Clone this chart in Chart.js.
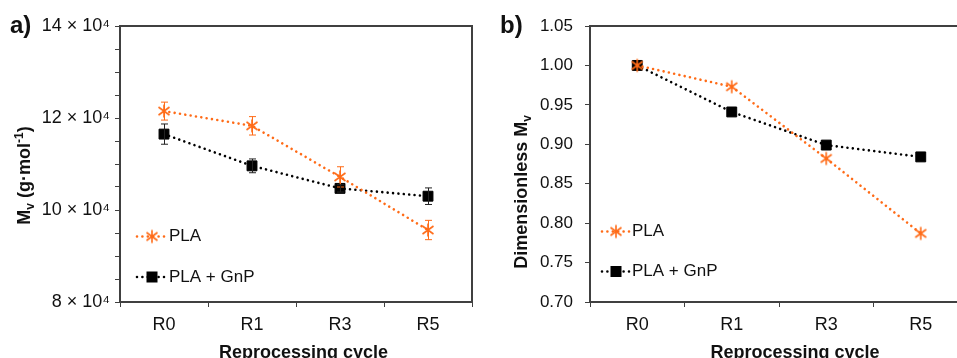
<!DOCTYPE html>
<html>
<head>
<meta charset="utf-8">
<script src="https://cdn.jsdelivr.net/npm/chart.js@4.4.1/dist/chart.umd.min.js"></script>
<style>
  html, body { margin: 0; padding: 0; background: #fff; overflow: hidden; width: 957px; height: 358px; }
  canvas { position: absolute; top: 0; }
  #chartA { left: 0; }
  #chartB { left: 480px; }
</style>
</head>
<body>
<canvas id="chartA" width="480" height="358"></canvas>
<canvas id="chartB" width="500" height="358"></canvas>
<script>
// Reprocessing cycles
const categories = ['R0', 'R1', 'R3', 'R5'];

// Viscosity-average molecular weight, g/mol
const plaMv = [121500, 118300, 107200, 95650];
const plaMvErr = [1950, 2000, 2200, 2100];
const gnpMv = [116500, 109600, 104700, 103000];
const gnpMvErr = [2200, 1500, 800, 1800];

// Molecular weight relative to the unprocessed material
const plaDimless = [1.000, 0.973, 0.882, 0.787];
const gnpDimless = [1.000, 0.941, 0.899, 0.884];

// Axis tick values
const mvTicksMajor = [80000, 100000, 120000, 140000];
const dimTickStep = 0.05;

const FONT = "'Liberation Sans', Arial, Helvetica, sans-serif";
const ORANGE = '#FF6B17';
const BLACK = '#000000';
const AXIS = '#404040';
const TEXT = '#111111';

// Six-spoke asterisk marker
function makeAsterisk(color) {
  const c = document.createElement('canvas');
  c.width = 16; c.height = 16;
  const g = c.getContext('2d');
  g.strokeStyle = color;
  g.lineWidth = 1.6;
  g.beginPath();
  g.moveTo(8, 1.5); g.lineTo(8, 14.5);
  g.moveTo(2.5, 4); g.lineTo(13.5, 12);
  g.moveTo(2.5, 12); g.lineTo(13.5, 4);
  g.stroke();
  return c;
}
const asterisk = makeAsterisk(ORANGE);

// Vertical error bars with caps, drawn through the y scale
const errorBars = {
  id: 'errorBars',
  afterDatasetsDraw(chart) {
    const ctx = chart.ctx;
    const yScale = chart.scales.y;
    chart.data.datasets.forEach((ds, i) => {
      if (!ds.errors) return;
      const meta = chart.getDatasetMeta(i);
      ctx.save();
      ctx.strokeStyle = ds.errorColor;
      ctx.lineWidth = 1;
      meta.data.forEach((pt, j) => {
        const v = ds.data[j], e = ds.errors[j];
        const yt = yScale.getPixelForValue(v + e);
        const yb = yScale.getPixelForValue(v - e);
        const x = Math.round(pt.x) + 0.5;
        ctx.beginPath();
        ctx.moveTo(x, yt); ctx.lineTo(x, yb);
        ctx.moveTo(x - 3.5, yt); ctx.lineTo(x + 3.5, yt);
        ctx.moveTo(x - 3.5, yb); ctx.lineTo(x + 3.5, yb);
        ctx.stroke();
      });
      ctx.restore();
    });
  }
};

// Top and right edges of the plot frame
const frame = {
  id: 'frame',
  afterDraw(chart) {
    const { ctx, chartArea: a } = chart;
    ctx.save();
    ctx.strokeStyle = AXIS;
    ctx.lineWidth = 2;
    ctx.beginPath();
    ctx.moveTo(a.left - 1, a.top);
    ctx.lineTo(a.right, a.top);
    ctx.lineTo(a.right, a.bottom);
    ctx.stroke();
    ctx.restore();
  }
};

// Text with sub/superscript runs
function drawRich(ctx, segs, cx, cy, rot, size, weight) {
  const small = Math.round(size * 0.68);
  ctx.save();
  ctx.translate(cx, cy);
  ctx.rotate(rot);
  let w = 0;
  segs.forEach(s => {
    ctx.font = weight + ' ' + (s.sub || s.sup ? small : size) + 'px ' + FONT;
    s.w = ctx.measureText(s.t).width;
    w += s.w;
  });
  let x = -w / 2;
  const base = size * 0.36;
  ctx.fillStyle = TEXT;
  ctx.textBaseline = 'alphabetic';
  ctx.textAlign = 'left';
  segs.forEach(s => {
    ctx.font = weight + ' ' + (s.sub || s.sup ? small : size) + 'px ' + FONT;
    let dy = 0;
    if (s.sub) dy = size * 0.22;
    if (s.sup) dy = -size * 0.4;
    ctx.fillText(s.t, x, base + dy);
    x += s.w;
  });
  ctx.restore();
}

// Panel letter, axis titles and the series key
const annotations = {
  id: 'annotations',
  afterDraw(chart, args, opts) {
    const ctx = chart.ctx;
    ctx.save();
    ctx.fillStyle = TEXT;
    ctx.font = 'bold 24px ' + FONT;
    ctx.textBaseline = 'alphabetic';
    ctx.textAlign = 'left';
    ctx.fillText(opts.letter.text, opts.letter.x, opts.letter.y);
    ctx.font = 'bold 18px ' + FONT;
    ctx.textAlign = 'center';
    ctx.fillText(opts.xTitle.text, opts.xTitle.x, opts.xTitle.y);
    ctx.restore();
    drawRich(ctx, opts.yTitle.segs, opts.yTitle.x, opts.yTitle.y, -Math.PI / 2, 18, 'bold');

    // key entries: dotted sample, marker, label
    const k = opts.key;
    chart.data.datasets.forEach((ds, i) => {
      const y = k.rows[i];
      ctx.save();
      ctx.strokeStyle = ds.borderColor;
      ctx.lineWidth = ds.borderWidth;
      ctx.lineCap = 'round';
      ctx.setLineDash(ds.borderDash);
      ctx.beginPath();
      ctx.moveTo(k.x0, y); ctx.lineTo(k.x1, y);
      ctx.stroke();
      ctx.setLineDash([]);
      const mx = (k.x0 + k.x1) / 2;
      if (ds.pointStyle === 'rect') {
        const s = 11;
        ctx.fillStyle = ds.pointBackgroundColor;
        ctx.fillRect(mx - s / 2, y - s / 2, s, s);
      } else {
        ctx.drawImage(ds.pointStyle, mx - 8, y - 8);
      }
      ctx.fillStyle = TEXT;
      ctx.font = '17px ' + FONT;
      ctx.textBaseline = 'middle';
      ctx.textAlign = 'left';
      ctx.fillText(ds.label, k.x1 + 2, y);
      ctx.restore();
    });
  }
};

function seriesStyle(color, style, radius) {
  return {
    borderColor: color,
    borderWidth: 2.6,
    borderDash: [0.001, 5.4],
    borderCapStyle: 'round',
    pointStyle: style,
    pointRadius: radius,
    pointBackgroundColor: color,
    pointBorderColor: color,
    pointBorderWidth: 1,
    fill: false,
    tension: 0
  };
}

function xAxis(height) {
  return {
    type: 'category',
    offset: true,
    grid: { offset: true, drawOnChartArea: false, drawTicks: true, tickLength: 5, color: AXIS, lineWidth: 1 },
    border: { color: AXIS, width: 2 },
    ticks: { color: TEXT, font: { family: FONT, size: 18 }, padding: 7, maxRotation: 0, autoSkip: false },
    afterFit(s) { s.height = height; }
  };
}

// a) absolute molecular weight
new Chart(document.getElementById('chartA'), {
  type: 'line',
  data: {
    labels: categories,
    datasets: [
      Object.assign({ label: 'PLA', data: plaMv, errors: plaMvErr, errorColor: ORANGE }, seriesStyle(ORANGE, asterisk, 7)),
      Object.assign({ label: 'PLA + GnP', data: gnpMv, errors: gnpMvErr, errorColor: '#222' }, seriesStyle(BLACK, 'rect', 7))
    ]
  },
  options: {
    responsive: false,
    animation: false,
    devicePixelRatio: 1,
    layout: { padding: { top: 26, right: 7, left: 0, bottom: 0 } },
    scales: {
      x: xAxis(56),
      y: {
        min: mvTicksMajor[0],
        max: mvTicksMajor[mvTicksMajor.length - 1],
        ticks: {
          stepSize: 5000,
          autoSkip: false,
          color: TEXT,
          padding: 5,
          font: { family: FONT, size: 18 },
          callback: v => mvTicksMajor.includes(v) ? (v / 10000) + ' × 10⁴' : ''
        },
        grid: { drawOnChartArea: false, tickLength: 5, color: AXIS, lineWidth: 1 },
        border: { color: AXIS, width: 2 },
        afterFit(s) { s.width = 120; }
      }
    },
    plugins: {
      legend: { display: false },
      tooltip: { enabled: false },
      annotations: {
        letter: { text: 'a)', x: 10, y: 33 },
        xTitle: { text: 'Reprocessing cycle', x: 303.5, y: 357.5 },
        yTitle: { segs: [{ t: 'M' }, { t: 'v', sub: true }, { t: ' (g·mol' }, { t: '-1', sup: true }, { t: ')' }], x: 23.5, y: 175.5 },
        key: { x0: 137, x1: 167, rows: [236.5, 277] }
      }
    }
  },
  plugins: [errorBars, frame, annotations]
});

// b) molecular weight relative to R0
new Chart(document.getElementById('chartB'), {
  type: 'line',
  data: {
    labels: categories,
    datasets: [
      Object.assign({ label: 'PLA', data: plaDimless }, seriesStyle(ORANGE, asterisk, 7)),
      Object.assign({ label: 'PLA + GnP', data: gnpDimless }, seriesStyle(BLACK, 'rect', 7))
    ]
  },
  options: {
    responsive: false,
    animation: false,
    devicePixelRatio: 1,
    layout: { padding: { top: 26, right: 12, left: 0, bottom: 0 } },
    scales: {
      x: xAxis(56),
      y: {
        min: 0.7,
        max: 1.05,
        ticks: {
          stepSize: dimTickStep,
          autoSkip: false,
          color: TEXT,
          padding: 12,
          font: { family: FONT, size: 17 },
          callback: v => Number(v).toFixed(2)
        },
        grid: { drawOnChartArea: false, tickLength: 5, color: AXIS, lineWidth: 1 },
        border: { color: AXIS, width: 2 },
        afterFit(s) { s.width = 110; }
      }
    },
    plugins: {
      legend: { display: false },
      tooltip: { enabled: false },
      annotations: {
        letter: { text: 'b)', x: 20, y: 33 },
        xTitle: { text: 'Reprocessing cycle', x: 315, y: 357.5 },
        yTitle: { segs: [{ t: 'Dimensionless M' }, { t: 'v', sub: true }], x: 40.5, y: 192 },
        key: { x0: 122, x1: 150, rows: [231.5, 271.5] }
      }
    }
  },
  plugins: [frame, annotations]
});
</script>
</body>
</html>
